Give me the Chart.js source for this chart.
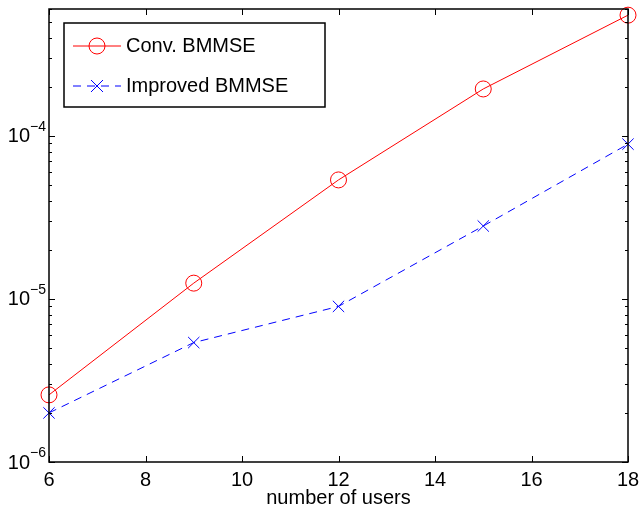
<!DOCTYPE html>
<html>
<head>
<meta charset="utf-8">
<script src="https://cdn.jsdelivr.net/npm/chart.js@4.4.0/dist/chart.umd.min.js"></script>
<style>
  html, body { margin: 0; padding: 0; background: #fff; }
  #wrap { width: 640px; height: 511px; }
</style>
</head>
<body>
<div id="wrap"><canvas id="chart" width="640" height="511"></canvas></div>
<script>
const users = [6, 9, 12, 15, 18];
const convBmmse = [2.58e-6, 1.25e-5, 5.37e-5, 1.94e-4, 5.5e-4];
const improvedBmmse = [2.0e-6, 5.4e-6, 9.0e-6, 2.8e-5, 8.9e-5];
const xTicks = [6, 8, 10, 12, 14, 16, 18];
const yDecades = [-6, -5, -4];
const legendLabels = ['Conv. BMMSE', 'Improved BMMSE'];

const FONT = '"Liberation Sans", Arial, Helvetica, sans-serif';

// eixos estilo matlab: caixa, marcas para dentro, rotulos 10^n
const matlabAxes = {
    id: 'matlabAxes',
    afterDraw(chart) {
        const ctx = chart.ctx;
        const a = chart.chartArea;
        const xs = chart.scales.x;
        const ys = chart.scales.y;
        ctx.save();
        ctx.strokeStyle = '#000';
        ctx.lineWidth = 1.5;
        ctx.strokeRect(a.left, a.top, a.right - a.left, a.bottom - a.top);

        ctx.lineWidth = 1;
        ctx.beginPath();
        xTicks.forEach(v => {
            const px = Math.round(xs.getPixelForValue(v)) + 0.5;
            ctx.moveTo(px, a.bottom); ctx.lineTo(px, a.bottom - 6);
            ctx.moveTo(px, a.top); ctx.lineTo(px, a.top + 6);
        });
        for (let e = -6; e <= -4; e++) {
            for (let m = 1; m <= 9; m++) {
                const v = m * Math.pow(10, e);
                if (v > ys.max * 1.0001) continue;
                const py = Math.round(ys.getPixelForValue(v)) + 0.5;
                const len = m === 1 ? 6 : 3;
                ctx.moveTo(a.left, py); ctx.lineTo(a.left + len, py);
                ctx.moveTo(a.right, py); ctx.lineTo(a.right - len, py);
            }
        }
        ctx.stroke();

        ctx.fillStyle = '#000';
        ctx.font = '20px ' + FONT;
        ctx.textAlign = 'center';
        ctx.textBaseline = 'middle';
        xTicks.forEach(v => {
            ctx.fillText(String(v), xs.getPixelForValue(v), a.bottom + 18);
        });
        ctx.fillText('number of users', (a.left + a.right) / 2, a.bottom + 36);

        yDecades.forEach(e => {
            const py = ys.getPixelForValue(Math.pow(10, e));
            ctx.font = '20px ' + FONT;
            ctx.textAlign = 'right';
            ctx.textBaseline = 'middle';
            ctx.fillText('10', a.left - 19, py + 1);
            ctx.font = '14px ' + FONT;
            ctx.textAlign = 'left';
            ctx.fillText('\u2212' + String(-e), a.left - 19, py - 9);
        });

        // legenda
        const lx = 64, ly = 23, lw = 261, lh = 84;
        ctx.fillStyle = '#fff';
        ctx.fillRect(lx, ly, lw, lh);
        ctx.lineWidth = 1.5;
        ctx.strokeStyle = '#000';
        ctx.strokeRect(lx, ly, lw, lh);
        const rows = [46, 86];
        chart.data.datasets.forEach((ds, i) => {
            const y = rows[i];
            ctx.strokeStyle = ds.borderColor;
            ctx.lineWidth = 1;
            ctx.setLineDash(ds.borderDash || []);
            ctx.beginPath();
            ctx.moveTo(73, y); ctx.lineTo(121, y);
            ctx.stroke();
            ctx.setLineDash([]);
            ctx.beginPath();
            if (ds.pointStyle === 'circle') {
                ctx.arc(97, y, 8, 0, Math.PI * 2);
            } else {
                ctx.moveTo(91, y - 6); ctx.lineTo(103, y + 6);
                ctx.moveTo(91, y + 6); ctx.lineTo(103, y - 6);
            }
            ctx.stroke();
            ctx.fillStyle = '#000';
            ctx.font = '20px ' + FONT;
            ctx.textAlign = 'left';
            ctx.textBaseline = 'middle';
            ctx.fillText(legendLabels[i], 126, y);
        });
        ctx.restore();
    }
};

new Chart(document.getElementById('chart'), {
    type: 'line',
    data: {
        datasets: [
            {
                label: legendLabels[0],
                data: users.map((u, i) => ({ x: u, y: convBmmse[i] })),
                borderColor: '#ff0000',
                borderWidth: 1,
                pointStyle: 'circle',
                pointRadius: 8,
                pointBorderWidth: 1,
                pointBackgroundColor: 'rgba(0,0,0,0)',
                pointBorderColor: '#ff0000',
                tension: 0,
                clip: false
            },
            {
                label: legendLabels[1],
                data: users.map((u, i) => ({ x: u, y: improvedBmmse[i] })),
                borderColor: '#0000ff',
                borderWidth: 1,
                borderDash: [8, 6],
                pointStyle: 'crossRot',
                pointRadius: 8,
                pointBorderWidth: 1,
                pointBorderColor: '#0000ff',
                tension: 0,
                clip: false
            }
        ]
    },
    options: {
        responsive: false,
        animation: false,
        layout: { padding: { top: 9, right: 12, left: 0, bottom: 0 } },
        plugins: { legend: { display: false }, tooltip: { enabled: false } },
        scales: {
            x: {
                type: 'linear', min: 6, max: 18,
                grid: { display: false }, border: { display: false },
                ticks: { display: false },
                afterFit(s) { s.height = 49; }
            },
            y: {
                type: 'logarithmic', min: 1e-6, max: 6e-4,
                grid: { display: false }, border: { display: false },
                ticks: { display: false },
                afterFit(s) { s.width = 49; }
            }
        }
    },
    plugins: [matlabAxes]
});
</script>
</body>
</html>
